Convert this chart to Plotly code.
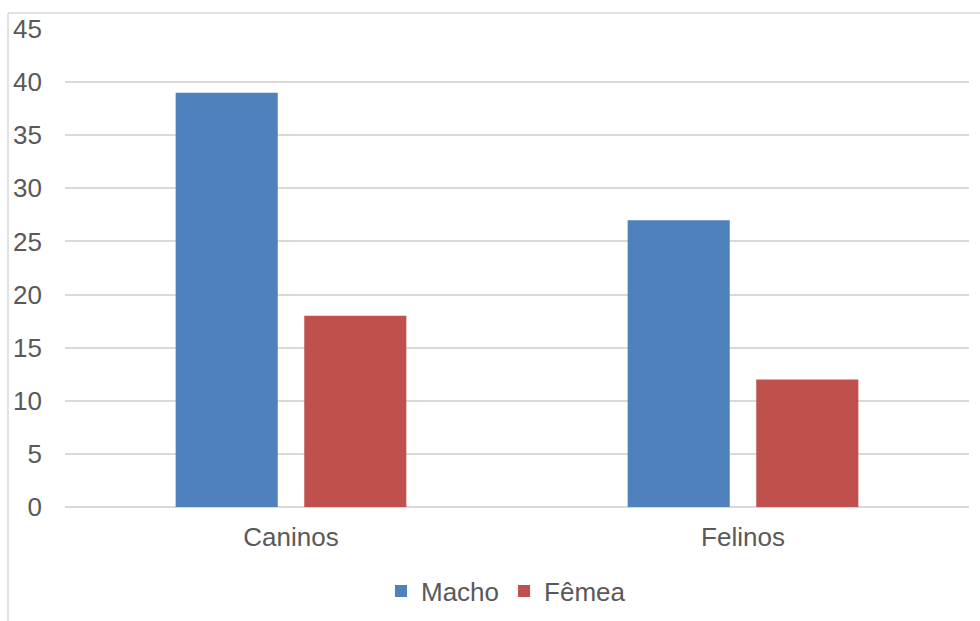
import plotly.graph_objects as go

categories = ["Caninos", "Felinos"]
macho = [39, 27]
femea = [18, 12]
y_ticks = [0, 5, 10, 15, 20, 25, 30, 35, 40, 45]

W, H = 980, 621
L, R, T, B = 65, 11, 29, 114
pw = W - L - R
ph = H - T - B

fig = go.Figure()
fig.add_trace(go.Bar(name="Macho", x=categories, y=macho, marker=dict(color="#4F81BD", line=dict(width=0))))
fig.add_trace(go.Bar(name="Fêmea", x=categories, y=femea, marker=dict(color="#C0504D", line=dict(width=0))))

font = dict(family="Liberation Sans, Arial, sans-serif", size=26, color="#595959")

fig.update_layout(
    width=W, height=H,
    margin=dict(l=L, r=R, t=T, b=B, autoexpand=False),
    paper_bgcolor="white", plot_bgcolor="white",
    barmode="group", bargap=0.431, bargroupgap=0.206,
    font=font,
    showlegend=True,
    legend=dict(orientation="h", x=(506 - L) / pw, xanchor="center",
                yref="container", y=(H - 591) / H, yanchor="middle",
                font=font, itemwidth=30, traceorder="normal"),
    xaxis=dict(showgrid=False, showline=False, ticks="", tickfont=font, ticklabelstandoff=12, automargin=False),
    yaxis=dict(range=[0, 45], tickvals=y_ticks, showgrid=True, gridcolor="#D9D9D9", gridwidth=1.5,
               zeroline=True, zerolinecolor="#D9D9D9", zerolinewidth=1.5, showline=False, ticks="",
               tickfont=font, ticklabelstandoff=22, automargin=False),
)

fig.add_shape(type="line", xref="paper", yref="paper",
              x0=(8 - L) / pw, x1=(8 - L) / pw, y0=(H - B - 13) / ph, y1=(H - B - H - 5) / ph,
              line=dict(color="#D9D9D9", width=1.5))
fig.add_shape(type="line", xref="paper", yref="paper",
              x0=(8 - L) / pw, x1=(W + 5 - L) / pw, y0=(H - B - 13) / ph, y1=(H - B - 13) / ph,
              line=dict(color="#D9D9D9", width=1.5))

fig.write_html("out.html")
